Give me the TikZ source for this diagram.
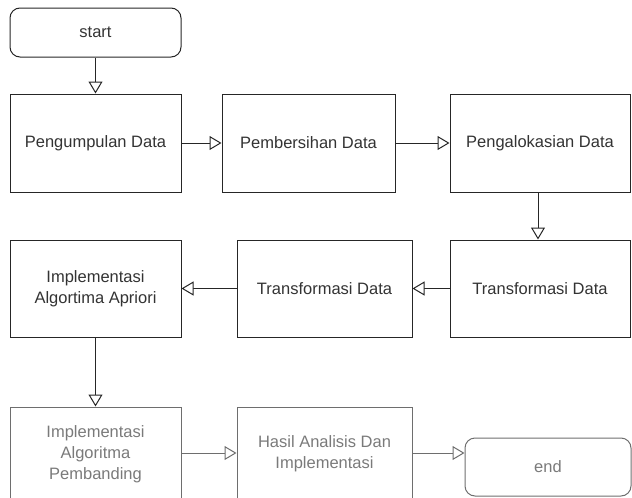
\documentclass[tikz,border=0pt]{standalone}
\usepackage{fontspec}
\setmainfont{Liberation Sans}
\usetikzlibrary{arrows.meta}
\definecolor{txt}{HTML}{333333}
\definecolor{gtxt}{HTML}{7A7A7A}
\definecolor{gline}{HTML}{6E6E6E}
\begin{document}
\begin{tikzpicture}[x=1pt,y=1pt,
  box/.style={draw=black!85, line width=1pt, rectangle, align=center, text=txt,
    font=\fontsize{16.5}{21}\selectfont, inner sep=2pt},
  term/.style={box, rounded corners=10pt},
  gbox/.style={box, draw=gline, text=gtxt},
  gterm/.style={gbox, rounded corners=10pt},
  flow/.style={draw=black!85, line width=1pt, -{Triangle[open, length=12pt, width=14pt, fill=white]}},
  gflow/.style={flow, draw=gline}]
\useasboundingbox (0,0) rectangle (632,-498);
\node[term, minimum width=171, minimum height=49] (start) at (95.5,-32.5) {start};
\node[box, minimum width=171, minimum height=98] (b1) at (95.5,-143) {Pengumpulan Data};
\node[box, minimum width=173, minimum height=98] (b2) at (308.5,-143) {Pembersihan Data};
\node[box, minimum width=180, minimum height=98] (b3) at (540,-143) {Pengalokasian Data};
\node[box, minimum width=180, minimum height=97] (b6) at (540,-288.5) {Transformasi Data};
\node[box, minimum width=175, minimum height=97] (b5) at (324.5,-288.5) {Transformasi Data};
\node[box, minimum width=171, minimum height=97] (b4) at (95.5,-288.5) {Implementasi\\Algortima Apriori};
\node[gbox, minimum width=171, minimum height=94] (b7) at (95.5,-454) {Implementasi\\Algoritma\\Pembanding};
\node[gbox, minimum width=175, minimum height=94] (b8) at (324.5,-454) {Hasil Analisis Dan\\Implementasi};
\node[gterm, minimum width=166, minimum height=58] (end) at (548,-467) {end};
\draw[flow] (start) -- (b1);
\draw[flow] (b1) -- (b2);
\draw[flow] (b2) -- (b3);
\draw[flow] (b3.south -| 538,0) -- (b6.north -| 538,0);
\draw[flow] (b6) -- (b5);
\draw[flow] (b5) -- (b4);
\draw[flow] (b4) -- (b7);
\draw[gflow] (b7.east |- 0,-453) -- (b8.west |- 0,-453);
\draw[gflow] (b8.east |- 0,-453) -- (end.west |- 0,-453);
\end{tikzpicture}
\end{document}
